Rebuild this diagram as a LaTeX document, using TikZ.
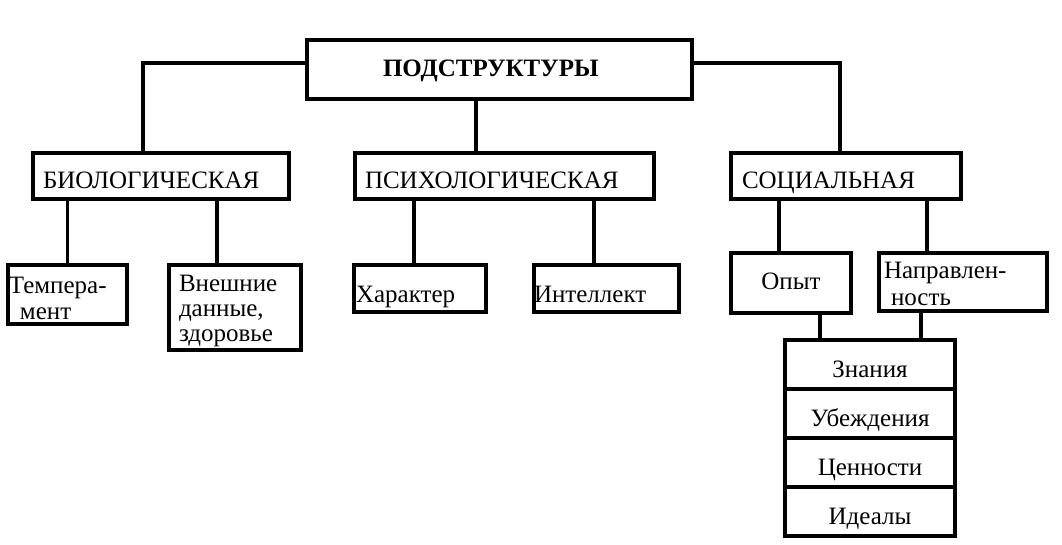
\documentclass[tikz,border=0pt]{standalone}
\usepackage{fontspec}
\setmainfont{Liberation Serif}
\usepackage{tikz}

\begin{document}
\begin{tikzpicture}[x=1pt,y=-1pt,line width=3.5pt,
	blk/.style={draw,align=left,inner ysep=0pt,font=\fontsize{25}{26}\selectfont},
	row/.style={blk,align=center,inner xsep=0pt,minimum width=170pt,text width=170pt,minimum height=49pt,text height=26pt,text depth=0pt}]
	\useasboundingbox (0,0) rectangle (1062,545);
	\node [blk,font=\fontsize{25}{26}\selectfont\bfseries,minimum width=385pt,minimum height=59pt,inner xsep=76pt,text width=233pt,text height=14pt,text depth=0pt] (top) at (499.5,69.5){ПОДСТРУКТУРЫ};
	\node [blk,minimum width=256pt,minimum height=46pt,inner xsep=10pt,text width=236pt,text height=26pt,text depth=0pt] (bio) at (161,176){БИОЛОГИЧЕСКАЯ};
	\node [blk,minimum width=299pt,minimum height=46pt,inner xsep=10pt,text width=279pt,text height=26pt,text depth=0pt] (psy) at (504.5,176){ПСИХОЛОГИЧЕСКАЯ};
	\node [blk,minimum width=230pt,minimum height=46pt,inner xsep=11pt,text width=208pt,text height=26pt,text depth=0pt] (soc) at (846,176){СОЦИАЛЬНАЯ};
	\node [blk,minimum width=119pt,minimum height=59pt,inner xsep=1pt,text width=117pt,text height=10pt,text depth=13pt] (temp) at (67.5,294.5){Темпера-\\\hspace*{11pt}мент};
	\node [blk,font=\fontsize{25}{25}\selectfont,minimum width=132pt,minimum height=85pt,inner xsep=10pt,text width=112pt,text height=10pt,text depth=42pt] (vnesh) at (235,307.5){Внешние\\данные,\\здоровье};
	\node [blk,minimum width=132pt,minimum height=47pt,inner xsep=2pt,text width=128pt,text height=27pt,text depth=0pt] (harak) at (420,288.5){Характер};
	\node [blk,minimum width=145pt,minimum height=47pt,inner xsep=0pt,text width=145pt,text height=27pt,text depth=0pt] (intel) at (606.5,288.5){Интеллект};
	\node [blk,align=center,minimum width=120pt,minimum height=60pt,inner xsep=0pt,text width=114pt,text height=12pt,text depth=0pt] (opyt) at (791,283){Опыт};
	\node [blk,minimum width=168pt,minimum height=58pt,inner xsep=5pt,text width=158pt,text height=10pt,text depth=16pt] (napr) at (963,282){Направлен-\\\hspace*{7pt}ность};
	\node [row] (znan) at (870,364.5){Знания};
	\node [row] (ubezh) at (870,413.5){Убеждения};
	\node [row] (cenn) at (870,462.5){Ценности};
	\node [row] (ideal) at (870,511.5){Идеалы};
	\draw ([yshift=6.5pt]top.west) -| ([xshift=-18pt]bio.north);
	\draw ([yshift=6.5pt]top.east) -| ([xshift=-6pt]soc.north);
	\draw ([xshift=-23.5pt]top.south) -- ([xshift=-23.5pt]top.south |- psy.north);
	\draw (temp.north) -- (temp.north |- bio.south);
	\draw ([xshift=-18pt]vnesh.north) -- ([xshift=-18pt]vnesh.north |- bio.south);
	\draw ([xshift=-6pt]harak.north) -- ([xshift=-6pt]harak.north |- psy.south);
	\draw ([xshift=-12.5pt]intel.north) -- ([xshift=-12.5pt]intel.north |- psy.south);
	\draw ([xshift=-12pt]opyt.north) -- ([xshift=-12pt]opyt.north |- soc.south);
	\draw ([xshift=-36pt]napr.north) -- ([xshift=-36pt]napr.north |- soc.south);
	\draw ([xshift=29pt]opyt.south) -- ([xshift=29pt]opyt.south |- znan.north);
	\draw ([xshift=-42pt]napr.south) -- ([xshift=-42pt]napr.south |- znan.north);
\end{tikzpicture}
\end{document}
